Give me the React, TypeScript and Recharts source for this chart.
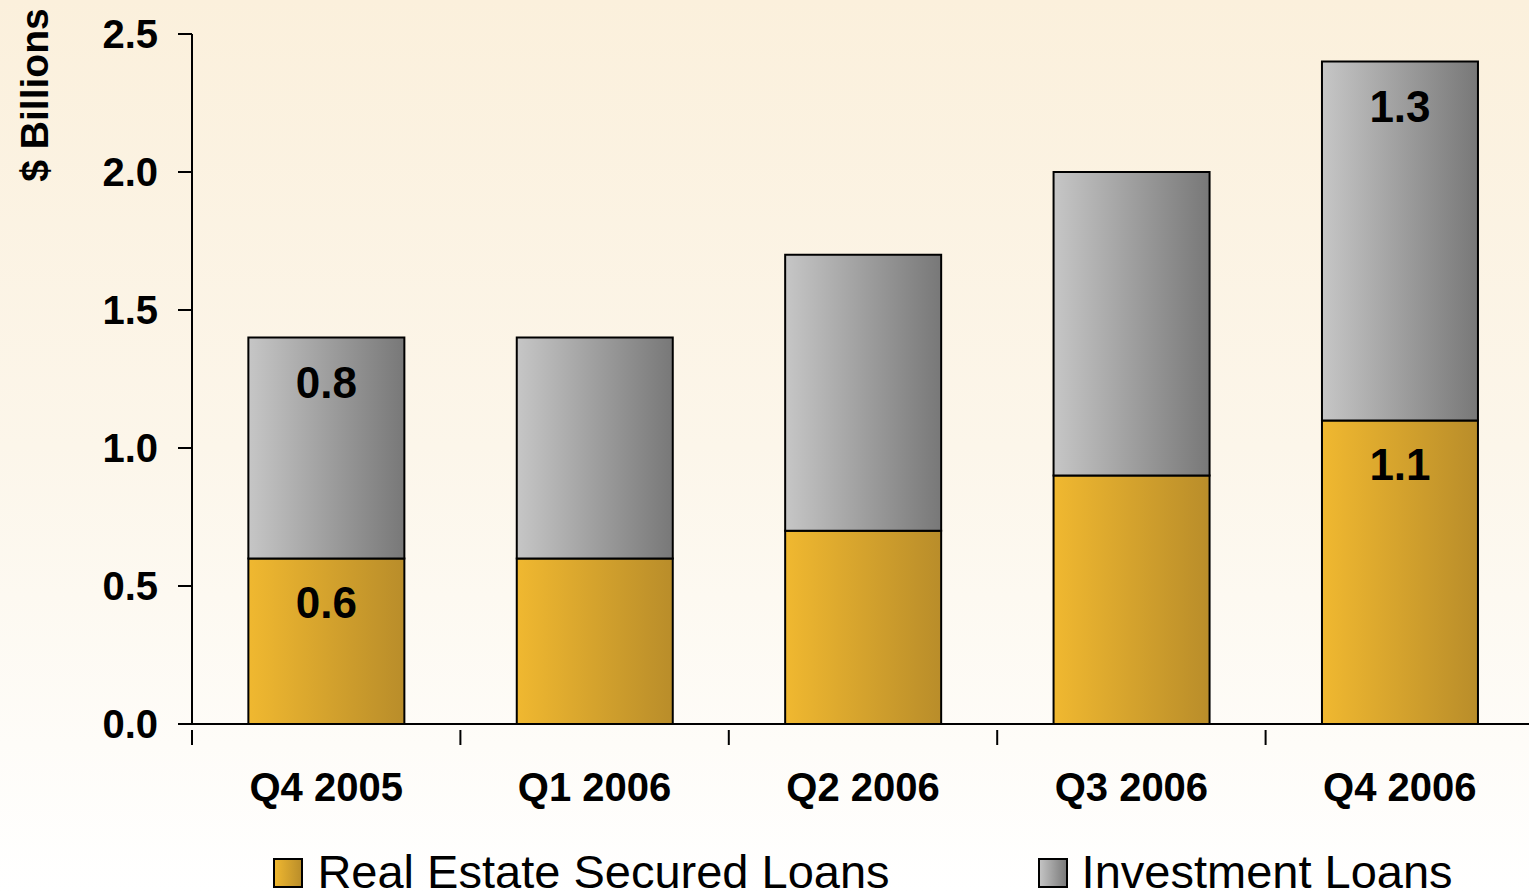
import React from "react";
import { BarChart, Bar, XAxis, YAxis, LabelList } from "recharts";

const quarters = ["Q4 2005", "Q1 2006", "Q2 2006", "Q3 2006", "Q4 2006"];
const realEstate = [0.6, 0.6, 0.7, 0.9, 1.1];
const investment = [0.8, 0.8, 1.0, 1.1, 1.3];
const labelledQuarters = ["Q4 2005", "Q4 2006"];
const yTicks = [0, 0.5, 1.0, 1.5, 2.0, 2.5];
const seriesNames = ["Real Estate Secured Loans", "Investment Loans"];

const FONT = "'Liberation Sans', Arial, Helvetica, sans-serif";
const W = 1529;
const H = 893;
const CHART_W = 1540;
const BAND = 1342 / quarters.length;

const data = quarters.map((q, i) => ({
  quarter: q,
  realEstate: realEstate[i],
  investment: investment[i],
}));

const QuarterTick = (props: any) => {
  const { x, y, payload } = props;
  const half = payload && payload.offset ? payload.offset : BAND / 2;
  return (
    <g>
      <line x1={x - half} x2={x - half} y1={y - 2} y2={y + 13} stroke="#000" strokeWidth={2} />
      <text
        x={x}
        y={y + 69}
        textAnchor="middle"
        fontFamily={FONT}
        fontWeight="bold"
        fontSize={40}
        fill="#000"
      >
        {payload.value}
      </text>
    </g>
  );
};

const makeBarLabel = (series: number[]) => (props: any) => {
  const { x, y, width, index } = props;
  if (!labelledQuarters.includes(quarters[index])) return null;
  return (
    <text
      x={x + width / 2}
      y={y + 60}
      textAnchor="middle"
      fontFamily={FONT}
      fontWeight="bold"
      fontSize={44}
      fill="#000"
    >
      {series[index].toFixed(1)}
    </text>
  );
};

const AxisTitle = (props: any) => {
  const vb = props.viewBox || { x: 0, y: 34 };
  const cx = vb.x + 34;
  const cy = vb.y + 61;
  return (
    <text
      x={cx}
      y={cy}
      transform={`rotate(-90 ${cx} ${cy})`}
      textAnchor="middle"
      dominantBaseline="central"
      fontFamily={FONT}
      fontWeight="bold"
      fontSize={39}
      fill="#000"
    >
      $ Billions
    </text>
  );
};

const swatches = ["url(#goldSw)", "url(#graySw)"];

export default function App() {
  return (
    <div
      style={{
        position: "fixed",
        left: 0,
        top: 0,
        width: W,
        height: H,
        overflow: "hidden",
        background: "linear-gradient(to bottom, #FBF0DC 0%, #FCF6EA 50%, #FFFFFF 100%)",
        fontFamily: FONT,
      }}
    >
      <BarChart
        width={CHART_W}
        height={H}
        data={data}
        margin={{ top: 34, right: 6, left: 0, bottom: 0 }}
        barCategoryGap="21%"
      >
        <defs>
          <linearGradient id="goldGrad" x1="0" y1="0" x2="1" y2="0">
            <stop offset="0%" stopColor="#F0B830" />
            <stop offset="100%" stopColor="#B98D2A" />
          </linearGradient>
          <linearGradient id="grayGrad" x1="0" y1="0" x2="1" y2="0">
            <stop offset="0%" stopColor="#C6C6C6" />
            <stop offset="100%" stopColor="#787878" />
          </linearGradient>
        </defs>
        <XAxis
          dataKey="quarter"
          height={169}
          axisLine={{ stroke: "#000", strokeWidth: 2 }}
          tickLine={false}
          tick={<QuarterTick />}
          interval={0}
        />
        <YAxis
          width={192}
          domain={[0, 2.5]}
          ticks={yTicks}
          tickFormatter={(v: number) => v.toFixed(1)}
          axisLine={{ stroke: "#000", strokeWidth: 2 }}
          tickLine={{ stroke: "#000", strokeWidth: 2 }}
          tickSize={14}
          tickMargin={20}
          tick={{ fontFamily: FONT, fontWeight: "bold", fontSize: 40, fill: "#000" }}
          label={<AxisTitle />}
          allowDataOverflow
        />
        <Bar
          dataKey="realEstate"
          name={seriesNames[0]}
          stackId="a"
          fill="url(#goldGrad)"
          stroke="#000"
          strokeWidth={2}
          isAnimationActive={false}
        >
          <LabelList dataKey="realEstate" content={makeBarLabel(realEstate)} />
        </Bar>
        <Bar
          dataKey="investment"
          name={seriesNames[1]}
          stackId="a"
          fill="url(#grayGrad)"
          stroke="#000"
          strokeWidth={2}
          isAnimationActive={false}
        >
          <LabelList dataKey="investment" content={makeBarLabel(investment)} />
        </Bar>
      </BarChart>
      <div
        style={{
          position: "absolute",
          left: 192,
          width: 1342,
          top: 845,
          display: "flex",
          justifyContent: "center",
          alignItems: "center",
          gap: 148,
          fontSize: 47,
          lineHeight: "54px",
          color: "#000",
          whiteSpace: "nowrap",
        }}
      >
        {seriesNames.map((name, i) => (
          <div key={name} style={{ display: "flex", alignItems: "center" }}>
            <svg width={30} height={30} style={{ marginRight: 14, marginTop: 2 }}>
              <defs>
                <linearGradient id={i === 0 ? "goldSw" : "graySw"} x1="0" y1="0" x2="1" y2="0">
                  <stop offset="0%" stopColor={i === 0 ? "#F0B830" : "#C6C6C6"} />
                  <stop offset="100%" stopColor={i === 0 ? "#B98D2A" : "#787878"} />
                </linearGradient>
              </defs>
              <rect x={1} y={1} width={28} height={28} fill={swatches[i]} stroke="#000" strokeWidth={2} />
            </svg>
            <span>{name}</span>
          </div>
        ))}
      </div>
    </div>
  );
}
